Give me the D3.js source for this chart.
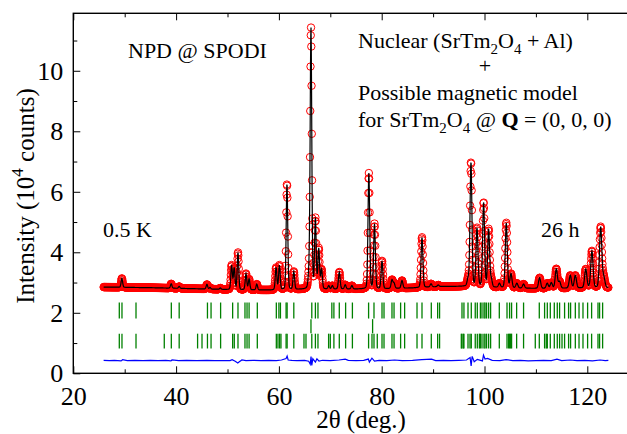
<!DOCTYPE html>
<html>
<head>
<meta charset="utf-8">
<script src="https://cdn.jsdelivr.net/npm/d3@7"></script>
<style>
  body { margin: 0; background: #fff; }
  svg { display: block; }
  text { font-family: "Liberation Serif", "Times New Roman", Times, "DejaVu Serif", serif; fill: #000; }
</style>
</head>
<body>
<svg id="chart" width="627" height="434"></svg>
<script>
// Reflections: [2θ (deg), peak top (10^4 counts), FWHM (deg)]
const reflections = [
  [29.45, 3.14, 0.34], [39.05, 2.96, 0.34], [40.6, 2.87, 0.34], [46.0, 2.94, 0.34],
  [46.6, 2.84, 0.34], [48.6, 2.82, 0.34], [50.8, 3.58, 0.35], [51.3, 3.50, 0.35],
  [52.04, 4.00, 0.35], [53.6, 3.30, 0.35], [54.2, 3.12, 0.35], [55.7, 2.95, 0.35],
  [59.45, 3.50, 0.36], [60.1, 3.58, 0.36], [61.57, 6.27, 0.36], [62.9, 3.37, 0.36],
  [65.85, 3.80, 0.37], [66.24, 11.45, 0.37], [67.1, 5.15, 0.37], [67.75, 4.15, 0.37],
  [68.3, 3.45, 0.37], [69.7, 2.90, 0.37], [70.4, 2.90, 0.37], [71.75, 3.35, 0.38],
  [72.9, 2.93, 0.38], [74.2, 2.90, 0.38], [77.5, 6.62, 0.39], [78.6, 4.95, 0.39],
  [80.06, 3.72, 0.39], [82.0, 3.10, 0.40], [82.4, 3.00, 0.40], [83.95, 3.07, 0.40],
  [87.84, 4.50, 0.41], [89.6, 2.96, 0.41], [91.0, 2.92, 0.42], [96.8, 3.20, 0.43],
  [97.37, 6.99, 0.43], [98.54, 4.82, 0.44], [99.83, 5.66, 0.44], [100.8, 4.78, 0.44],
  [101.3, 3.20, 0.44], [102.9, 2.98, 0.45], [104.24, 4.98, 0.45], [105.15, 3.30, 0.46],
  [106.3, 2.98, 0.46], [107.6, 2.95, 0.46], [110.72, 3.16, 0.48], [112.2, 2.98, 0.48],
  [113.0, 3.00, 0.49], [113.97, 3.46, 0.49], [114.6, 3.05, 0.49], [116.69, 3.24, 0.50],
  [117.67, 3.24, 0.50], [119.7, 3.45, 0.51], [120.9, 4.05, 0.52], [122.6, 4.85, 0.53],
  [123.2, 3.25, 0.53]
];

// Background level along 2θ
const bgAngle = [25.9, 35, 45, 52, 58, 64, 70, 80, 86, 92, 96, 104, 112, 120, 124.1];
const bgLevel = [2.85, 2.83, 2.79, 2.76, 2.75, 2.77, 2.78, 2.79, 2.82, 2.87, 2.87, 2.82, 2.80, 2.82, 2.82];

// Measured range and step
const scanStart = 25.9, scanEnd = 124.1, scanStep = 0.05;

// Bragg positions (2θ) of the two rows of markers
const braggRow1 = [28.95, 29.47, 32.2, 39.07, 40.6, 46.1, 46.8, 48.66, 51.0, 52.04, 53.4, 53.8, 54.2, 55.8,
  59.5, 60.0, 60.3, 61.4, 61.6, 62.9, 66.4, 67.1, 67.6, 70.3, 70.7, 71.75, 72.98, 74.3,
  77.45, 78.5, 80.06, 80.45, 82.0, 82.4, 83.68, 84.46, 86.87, 87.84, 89.65, 90.88, 91.26,
  95.62, 96.0, 96.79, 97.43, 98.2, 98.6, 99.2, 99.51, 99.9, 100.1, 100.4, 100.8, 101.19, 102.88,
  104.38, 104.88, 105.27, 106.25, 107.6, 110.66, 111.69, 112.22, 112.8, 113.58, 114.16, 114.61,
  115.58, 116.36, 116.75, 117.67, 118.39, 119.16, 120.06, 120.84, 122.08, 122.39, 122.98];
const braggRow2 = [28.95, 29.47, 32.2, 37.7, 39.07, 40.6, 44.18, 45.04, 46.1, 46.8, 48.66, 51.0, 51.32,
  52.04, 53.4, 53.8, 54.2, 55.8, 59.5, 59.82, 60.14, 60.4, 61.4, 61.6, 62.9, 64.88, 65.27, 66.4,
  67.1, 67.6, 69.67, 70.0, 70.7, 71.75, 72.98, 74.3, 77.45, 78.11, 78.5, 79.14, 80.06, 80.45,
  82.0, 82.4, 83.68, 84.46, 86.87, 87.84, 89.65, 90.88, 91.26, 95.49, 95.62, 95.88, 96.0, 96.79,
  97.18, 97.43, 98.2, 98.6, 99.0, 99.2, 99.51, 99.9, 100.1, 100.4, 100.8, 101.19, 102.88, 104.38,
  104.69, 104.88, 105.08, 105.27, 106.25, 107.6, 109.88, 110.66, 111.69, 112.02, 112.22, 112.8,
  113.58, 114.16, 114.61, 115.08, 115.58, 116.36, 116.75, 117.67, 118.39, 119.16, 120.06,
  120.84, 122.08, 122.39, 122.98];
const braggMid = [66.24, 78.23];

// Difference curve (observed − calculated, shifted)
const diffAngle = [25.9, 27, 28, 29.3, 29.6, 30.5, 32, 33.5, 35, 36.5, 38, 39, 39.2, 40.5, 42, 44, 46,
  47.5, 49, 50.5, 50.9, 51.5, 52.0, 52.3, 52.8, 53.6, 55, 56.5, 58, 59.5, 60.5, 61.4, 61.6, 61.8,
  62.5, 63.5, 65, 65.8, 66.1, 66.25, 66.4, 66.6, 67.1, 67.4, 67.8, 68.5, 70, 71.7, 72.9, 73.5, 75,
  76.5, 77.4, 77.6, 78.1, 78.6, 79.5, 81, 82.5, 84, 86, 87.8, 89.7, 90.5, 92, 93.5, 95, 96.5, 97.2,
  97.4, 97.6, 98, 98.6, 99.6, 99.8, 100.1, 100.6, 101.5, 103, 104.2, 105.5, 107, 108.5, 110, 111.5,
  113, 114.1, 115, 116.7, 118, 119.5, 121, 122.5, 123.5, 124.1];
const diffValue = [0.43, 0.42, 0.43, 0.41, 0.45, 0.42, 0.43, 0.42, 0.43, 0.42, 0.43, 0.41, 0.44, 0.42,
  0.43, 0.42, 0.43, 0.42, 0.42, 0.42, 0.45, 0.40, 0.34, 0.38, 0.44, 0.42, 0.43, 0.42, 0.43, 0.42,
  0.44, 0.49, 0.57, 0.44, 0.43, 0.42, 0.43, 0.40, 0.30, 0.55, 0.26, 0.48, 0.37, 0.48, 0.40, 0.43,
  0.42, 0.44, 0.47, 0.43, 0.42, 0.43, 0.47, 0.37, 0.50, 0.40, 0.43, 0.42, 0.44, 0.42, 0.43, 0.45,
  0.47, 0.42, 0.43, 0.42, 0.43, 0.44, 0.52, 0.24, 0.56, 0.38, 0.46, 0.41, 0.60, 0.47, 0.49, 0.43,
  0.42, 0.45, 0.42, 0.43, 0.41, 0.42, 0.43, 0.42, 0.47, 0.42, 0.44, 0.42, 0.43, 0.41, 0.44, 0.42, 0.43];

// Axis ticks
const xMajor = [20, 40, 60, 80, 100, 120];
const xMinor = [30, 50, 70, 90, 110, 130];
const yMajor = [0, 2, 4, 6, 8, 10];
const yMinor = [1, 3, 5, 7, 9, 11];

// ---------------------------------------------------------------------------
const svg = d3.select("#chart");
const x = d3.scaleLinear().domain([20, 130]).range([73.3, 638.7]);
const y = d3.scaleLinear().domain([0, 11.9]).range([373.3, 13.3]);

const background = d3.scaleLinear().domain(bgAngle).range(bgLevel).clamp(true);

// pseudo-Voigt line shape, unit height
const eta = 0.15;
function shape(dx, w) {
  const r = (dx * dx) / (w * w);
  return (1 - eta) * Math.exp(-4 * Math.LN2 * r) + eta / (1 + 4 * r);
}

// scale each reflection so the summed profile peaks at its listed top
const amp = reflections.map(([p, top]) => Math.max(0, top - background(p)));
for (let it = 0; it < 40; it++) {
  reflections.forEach(([p, top, w], i) => {
    let others = 0;
    reflections.forEach(([q, , wq], j) => { if (j !== i) others += amp[j] * shape(p - q, wq); });
    amp[i] = Math.max(0, top - background(p) - others);
  });
}
const profile = t => background(t) + d3.sum(reflections, ([p, , w], i) => amp[i] * shape(t - p, w));

const angles = d3.range(Math.round((scanEnd - scanStart) / scanStep) + 1).map(i => scanStart + i * scanStep);
const pattern = angles.map(t => ({ t, v: profile(t) }));

// Bragg markers
const gB = svg.append("g").attr("stroke", "#008000").attr("stroke-width", 1.3);
gB.selectAll("line.r1").data(braggRow1).join("line").attr("class", "r1")
  .attr("x1", d => x(d)).attr("x2", d => x(d)).attr("y1", y(2.34)).attr("y2", y(1.81));
gB.selectAll("line.r2").data(braggRow2).join("line").attr("class", "r2")
  .attr("x1", d => x(d)).attr("x2", d => x(d)).attr("y1", y(1.31)).attr("y2", y(0.82));
gB.selectAll("line.r3").data(braggMid).join("line").attr("class", "r3")
  .attr("x1", d => x(d)).attr("x2", d => x(d)).attr("y1", y(1.79)).attr("y2", y(1.32));

// Difference curve
svg.append("path")
  .datum(diffAngle.map((t, i) => [t, diffValue[i]]))
  .attr("fill", "none").attr("stroke", "#0000ff").attr("stroke-width", 1.2)
  .attr("d", d3.line().x(d => x(d[0])).y(d => y(d[1])));

// Observed points
svg.append("g").attr("fill", "none").attr("stroke", "#ff0000").attr("stroke-width", 1)
  .selectAll("circle").data(pattern).join("circle")
  .attr("cx", d => x(d.t)).attr("cy", d => y(d.v)).attr("r", 3.7);

// Calculated profile
svg.append("path").datum(pattern)
  .attr("fill", "none").attr("stroke", "#000").attr("stroke-width", 1.2)
  .attr("d", d3.line().x(d => x(d.t)).y(d => y(d.v)));

// Axes (ticks inward)
const fs = 26;
svg.append("g").attr("transform", `translate(0,${y(0)})`)
  .call(d3.axisBottom(x).tickValues(xMajor).tickSizeInner(-7).tickSizeOuter(0).tickPadding(13).tickFormat(d3.format("d")));
svg.append("g").attr("transform", `translate(0,${y(0)})`)
  .call(d3.axisBottom(x).tickValues(xMinor).tickSizeInner(-4).tickSizeOuter(0).tickFormat(""));
svg.append("g").attr("transform", `translate(0,${y(11.9)})`)
  .call(d3.axisTop(x).tickValues(xMajor).tickSizeInner(-7).tickSizeOuter(0).tickFormat(""));
svg.append("g").attr("transform", `translate(0,${y(11.9)})`)
  .call(d3.axisTop(x).tickValues(xMinor).tickSizeInner(-4).tickSizeOuter(0).tickFormat(""));
svg.append("g").attr("transform", `translate(${x(20)},0)`)
  .call(d3.axisLeft(y).tickValues(yMajor).tickSizeInner(-7).tickSizeOuter(0).tickPadding(10).tickFormat(d3.format("d")));
svg.append("g").attr("transform", `translate(${x(20)},0)`)
  .call(d3.axisLeft(y).tickValues(yMinor).tickSizeInner(-4).tickSizeOuter(0).tickFormat(""));
svg.selectAll(".domain").remove();
svg.selectAll(".tick line").attr("stroke", "#000").attr("stroke-width", 1);
svg.selectAll(".tick text").attr("font-size", fs).attr("fill", "#000");

// Frame
svg.append("rect")
  .attr("x", x(20)).attr("y", y(11.9)).attr("width", x(130) - x(20)).attr("height", y(0) - y(11.9))
  .attr("fill", "none").attr("stroke", "#000").attr("stroke-width", 1.4);

// Rich text helper: parts with optional sub/sup/bold
function rich(parent, px, py, size, parts, anchor) {
  const t = parent.append("text").attr("x", px).attr("y", py).attr("font-size", size)
    .attr("text-anchor", anchor || "start");
  let shift = 0;
  parts.forEach(p => {
    const target = p.sub ? 0.28 * size : p.sup ? -0.42 * size : 0;
    const ts = t.append("tspan").text(p.t).attr("dy", target - shift);
    if (p.sub || p.sup) ts.attr("font-size", size * 0.68);
    if (p.bold) ts.attr("font-weight", "bold");
    shift = target;
  });
  return t;
}

// Axis titles
const yTitle = svg.append("g").attr("transform", "translate(33.5,196) rotate(-90)");
rich(yTitle, 0, 0, 25, [{ t: "Intensity (10" }, { t: "4", sup: true }, { t: " counts)" }], "middle");
svg.append("text").attr("x", 361).attr("y", 428).attr("font-size", 25)
  .attr("text-anchor", "middle").text("2θ (deg.)");

// Annotations
const an = 22;
svg.append("text").attr("x", 128).attr("y", 58).attr("font-size", an).text("NPD @ SPODI");
rich(svg, 358, 48, an, [{ t: "Nuclear (SrTm" }, { t: "2", sub: true }, { t: "O" }, { t: "4", sub: true }, { t: " + Al)" }]);
svg.append("text").attr("x", 485).attr("y", 73).attr("font-size", an).attr("text-anchor", "middle").text("+");
svg.append("text").attr("x", 358).attr("y", 100).attr("font-size", an).text("Possible magnetic model");
rich(svg, 358, 127, an, [{ t: "for SrTm" }, { t: "2", sub: true }, { t: "O" }, { t: "4", sub: true },
  { t: " @ " }, { t: "Q", bold: true }, { t: " = (0, 0, 0)" }]);
svg.append("text").attr("x", 103).attr("y", 237).attr("font-size", an).text("0.5 K");
svg.append("text").attr("x", 541).attr("y", 237).attr("font-size", an).text("26 h");
</script>
</body>
</html>
